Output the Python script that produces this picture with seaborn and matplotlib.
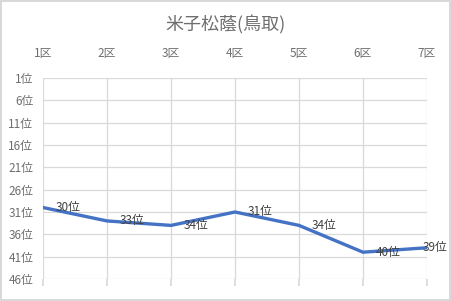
import matplotlib
matplotlib.use("Agg")
import matplotlib.pyplot as plt
import seaborn as sns
import pandas as pd

sns.set_theme(style="white")
plt.rcParams['font.family'] = ['Noto Sans CJK JP', 'DejaVu Sans']

title = "米子松蔭(鳥取)"
sections = ["1区", "2区", "3区", "4区", "5区", "6区", "7区"]
ranks = [30, 33, 34, 31, 34, 40, 39]
ytick_vals = [1, 6, 11, 16, 21, 26, 31, 36, 41, 46]

df = pd.DataFrame({"x": range(len(sections)), "rank": ranks})

fig = plt.figure(figsize=(4.51, 3.01), dpi=100)
fig.patch.set_edgecolor("#D9D9D9")
fig.patch.set_linewidth(1.5)
W, H = 451, 301
ax = fig.add_axes([43 / W, 1 - 279 / H, (427 - 43) / W, (279 - 78) / H])

sns.lineplot(data=df, x="x", y="rank", ax=ax, color="#4472C4", linewidth=2.4)

ax.set_xlim(0, len(sections) - 1)
ax.set_ylim(46, 1)
ax.set_yticks(ytick_vals)
ax.set_yticklabels([f"{v}位" for v in ytick_vals], color="#6E6E6E", fontsize=8.5)
ax.set_xticks(range(len(sections)))
ax.set_xticklabels(sections, color="#6E6E6E", fontsize=8.5)
ax.tick_params(axis="x", which="both", labeltop=True, labelbottom=False,
               top=False, bottom=True, length=5, color="#D9D9D9", pad=8)
ax.tick_params(axis="y", length=0, pad=7)
ax.set_xlabel("")
ax.set_ylabel("")
ax.grid(True, color="#D9D9D9", linewidth=0.9)
for s in ax.spines.values():
    s.set_visible(False)

n = len(ranks)
for i, r in enumerate(ranks):
    off = -3 if i == n - 1 else 9
    ax.annotate(f"{r}位", (i, r), xytext=(off, 0), textcoords="offset points",
                ha="left", va="center", fontsize=8.5, color="#404040",
                annotation_clip=False)

fig.text(0.5, 1 - 25 / H, title, ha="center", va="center", fontsize=13, color="#6E6E6E")

fig.savefig("out.png", dpi=100)
